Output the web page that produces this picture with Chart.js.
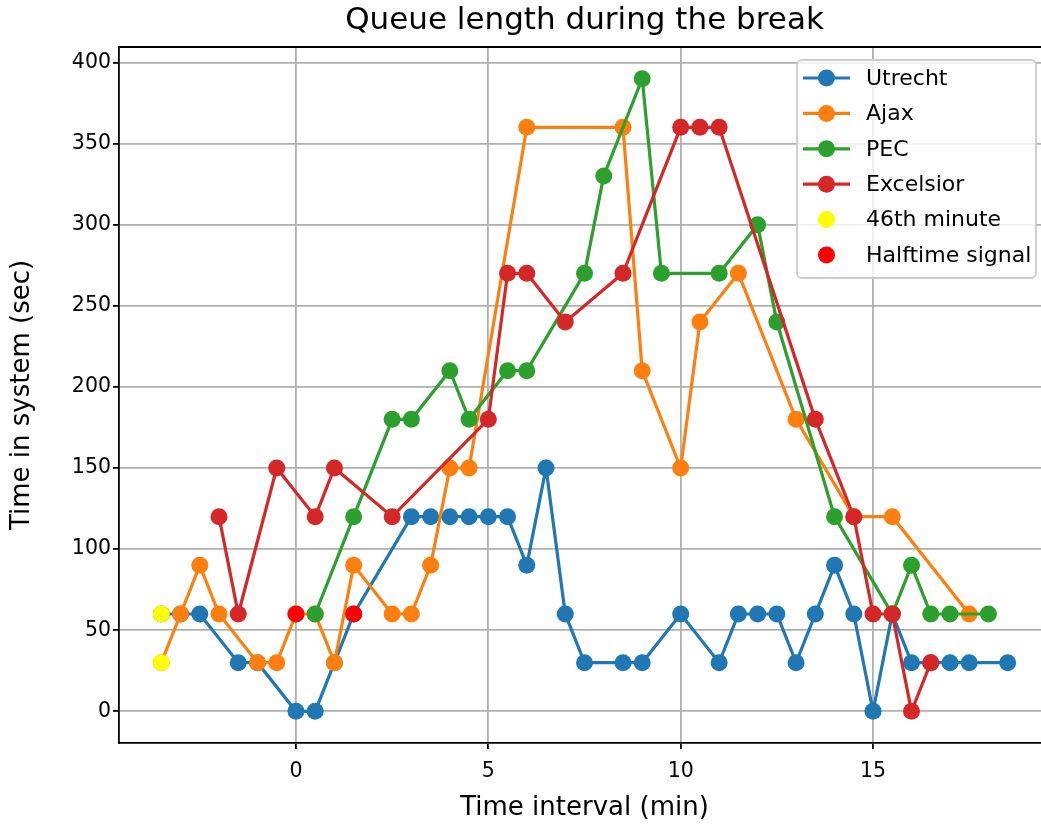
<!DOCTYPE html>
<html><head><meta charset="utf-8">
<script src="https://cdn.jsdelivr.net/npm/chart.js@4.4.1/dist/chart.umd.min.js"></script>
<style>
html,body{margin:0;padding:0;overflow:hidden;background:#fff;}
#wrap{width:1060px;height:825px;position:relative;}
</style></head>
<body><div id="wrap"><canvas id="c" width="1060" height="825"></canvas></div>
<script>
const chartTitle = 'Queue length during the break';
const xAxisTitle = 'Time interval (min)';
const yAxisTitle = 'Time in system (sec)';
const xTicks = [0, 5, 10, 15];
const yTicks = [0, 50, 100, 150, 200, 250, 300, 350, 400];

const utrechtX = [-3.5,-3,-2.5,-1.5,-1,0,0.5,1,1.5,3,3.5,4,4.5,5,5.5,6,6.5,7,7.5,8.5,9,10,11,11.5,12,12.5,13,13.5,14,14.5,15,15.5,16,16.5,17,17.5,18.5];
const utrechtY = [60,60,60,30,30,0,0,30,60,120,120,120,120,120,120,90,150,60,30,30,30,60,30,60,60,60,30,60,90,60,0,60,30,30,30,30,30];
const ajaxX = [-3.5,-3,-2.5,-2,-1,-0.5,0,0.5,1,1.5,2.5,3,3.5,4,4.5,6,8.5,9,10,10.5,11.5,13,14.5,15.5,17.5];
const ajaxY = [30,60,90,60,30,30,60,60,30,90,60,60,90,150,150,360,360,210,150,240,270,180,120,120,60];
const pecX = [0.5,1.5,2.5,3,4,4.5,5.5,6,7.5,8,9,9.5,11,12,12.5,14,15.5,16,16.5,17,18];
const pecY = [60,120,180,180,210,180,210,210,270,330,390,270,270,300,240,120,60,90,60,60,60];
const excelsiorX = [-2,-1.5,-0.5,0.5,1,2.5,5,5.5,6,7,8.5,10,10.5,11,13.5,14.5,15,15.5,16,16.5];
const excelsiorY = [120,60,150,120,150,120,180,270,270,240,270,360,360,360,180,120,60,60,0,30];
const minute46X = [-3.5,-3.5];
const minute46Y = [60,30];
const halftimeX = [0,1.5];
const halftimeY = [60,60];

const FONT = "'DejaVu Sans', sans-serif";
const pts = (xs, ys) => xs.map((x, i) => ({x: x, y: ys[i]}));

function lineSet(label, xs, ys, color, order) {
  return { label, data: pts(xs, ys), showLine: true, borderColor: color, backgroundColor: color,
    borderWidth: 3.2, pointRadius: 8.5, pointHoverRadius: 8.5, pointBorderWidth: 0,
    pointBackgroundColor: color, order: order, tension: 0, kind: 'line' };
}
function dotSet(label, xs, ys, color, order) {
  return { label, data: pts(xs, ys), showLine: false, borderColor: color, backgroundColor: color,
    pointRadius: 8.5, pointHoverRadius: 8.5, pointBorderWidth: 0, pointBackgroundColor: color,
    order: order, kind: 'dot' };
}

const datasets = [
  lineSet('Utrecht', utrechtX, utrechtY, '#1f77b4', 6),
  lineSet('Ajax', ajaxX, ajaxY, '#ff7f0e', 5),
  lineSet('PEC', pecX, pecY, '#2ca02c', 4),
  lineSet('Excelsior', excelsiorX, excelsiorY, '#d62728', 3),
  dotSet('46th minute', minute46X, minute46Y, '#ffff00', 2),
  dotSet('Halftime signal', halftimeX, halftimeY, '#ff0000', 1)
];

const decorPlugin = {
  id: 'decor',
  afterDraw(chart) {
    const ctx = chart.ctx, a = chart.chartArea;
    ctx.save();
    ctx.strokeStyle = '#000'; ctx.lineWidth = 1.8;
    ctx.beginPath();
    ctx.moveTo(a.left, a.top); ctx.lineTo(a.right, a.top); ctx.lineTo(a.right, a.bottom);
    ctx.stroke();
    ctx.fillStyle = '#000';
    ctx.font = '31px ' + FONT;
    ctx.textAlign = 'center'; ctx.textBaseline = 'middle';
    ctx.fillText(chartTitle, (a.left + a.right) / 2, 21);
    const bx = 797, by = 60, bw = 239, bh = 218, r = 5;
    ctx.beginPath();
    ctx.moveTo(bx + r, by); ctx.lineTo(bx + bw - r, by); ctx.arcTo(bx + bw, by, bx + bw, by + r, r);
    ctx.lineTo(bx + bw, by + bh - r); ctx.arcTo(bx + bw, by + bh, bx + bw - r, by + bh, r);
    ctx.lineTo(bx + r, by + bh); ctx.arcTo(bx, by + bh, bx, by + bh - r, r);
    ctx.lineTo(bx, by + r); ctx.arcTo(bx, by, bx + r, by, r); ctx.closePath();
    ctx.fillStyle = 'rgba(255,255,255,0.8)'; ctx.fill();
    ctx.strokeStyle = '#cccccc'; ctx.lineWidth = 1.8; ctx.stroke();
    ctx.font = '22px ' + FONT;
    ctx.textAlign = 'left'; ctx.textBaseline = 'middle';
    chart.data.datasets.forEach((ds, i) => {
      const y = 78 + i * 35.4;
      if (ds.kind === 'line') {
        ctx.strokeStyle = ds.borderColor; ctx.lineWidth = 3.2;
        ctx.beginPath(); ctx.moveTo(803, y); ctx.lineTo(850, y); ctx.stroke();
      }
      ctx.fillStyle = ds.pointBackgroundColor;
      ctx.beginPath(); ctx.arc(826.5, y, 8.5, 0, Math.PI * 2); ctx.fill();
      ctx.fillStyle = '#000';
      ctx.fillText(ds.label, 866, y + 1);
    });
    ctx.restore();
  }
};

new Chart(document.getElementById('c'), {
  type: 'scatter',
  data: { datasets },
  plugins: [decorPlugin],
  options: {
    responsive: false,
    animation: false,
    events: [],
    layout: { padding: { top: 47, right: 10, left: 0, bottom: 0 } },
    plugins: { legend: { display: false }, title: { display: false }, tooltip: { enabled: false } },
    scales: {
      x: {
        type: 'linear', min: -4.6, max: 19.6,
        afterBuildTicks: s => { s.ticks = xTicks.map(v => ({ value: v })); },
        afterFit: s => { s.height = 82; },
        grid: { color: '#b0b0b0', lineWidth: 1.8, drawTicks: true, tickLength: 6, tickColor: '#000', tickWidth: 1.8 },
        border: { display: true, color: '#000', width: 1.8 },
        ticks: { color: '#000', font: { family: FONT, size: 20.5 }, padding: 10, maxRotation: 0, autoSkip: false },
        title: { display: true, text: xAxisTitle, color: '#000', font: { family: FONT, size: 26 }, padding: { top: 0, bottom: 1.5 } }
      },
      y: {
        type: 'linear', min: -19.5, max: 409.5,
        afterBuildTicks: s => { s.ticks = yTicks.map(v => ({ value: v })); },
        afterFit: s => { s.width = 119; },
        grid: { color: '#b0b0b0', lineWidth: 1.8, drawTicks: true, tickLength: 6, tickColor: '#000', tickWidth: 1.8 },
        border: { display: true, color: '#000', width: 1.8 },
        ticks: { color: '#000', font: { family: FONT, size: 20.5 }, padding: 2, autoSkip: false },
        title: { display: true, text: yAxisTitle, color: '#000', font: { family: FONT, size: 26 }, padding: { top: 6.5, bottom: 0 } }
      }
    }
  }
});
</script>
</body></html>
